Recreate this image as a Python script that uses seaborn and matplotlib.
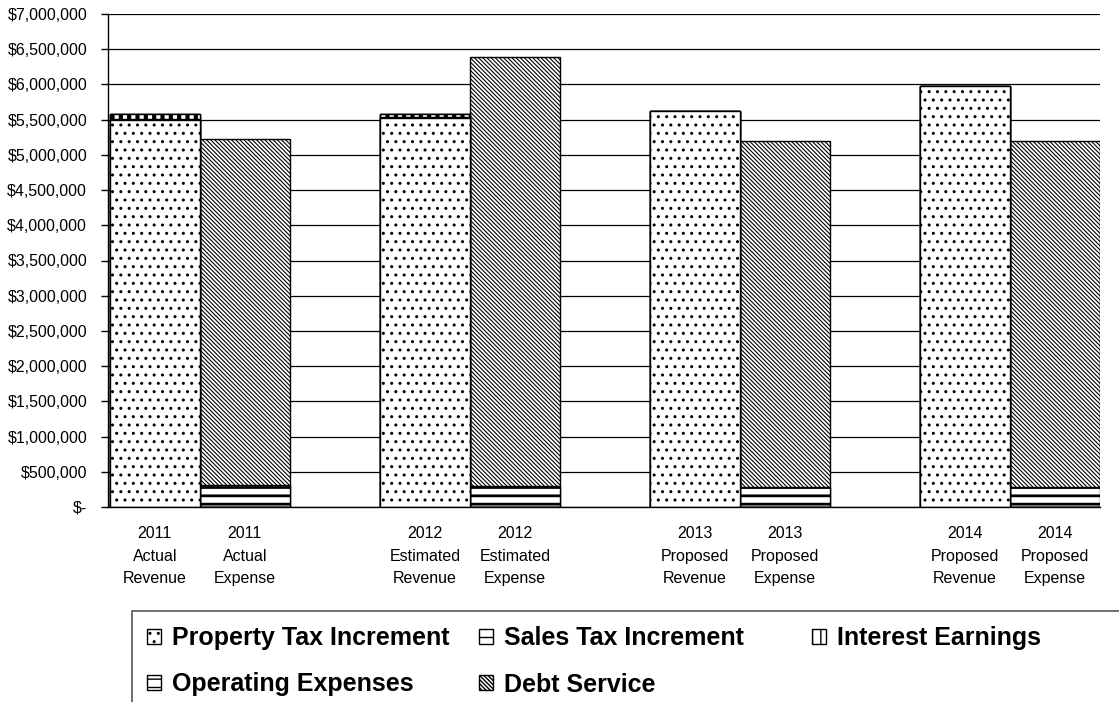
import pandas as pd
import matplotlib.pyplot as plt
import seaborn as sns
from matplotlib.patches import Patch, Rectangle
from matplotlib.ticker import FuncFormatter

# Category labels and positions (gaps between year pairs)
labels = ['2011\nActual\nRevenue', '2011\nActual\nExpense',
          '2012\nEstimated\nRevenue', '2012\nEstimated\nExpense',
          '2013\nProposed\nRevenue', '2013\nProposed\nExpense',
          '2014\nProposed\nRevenue', '2014\nProposed\nExpense']
positions = [0, 1, 3, 4, 6, 7, 9, 10]

# Series values
property_tax = [5495000, 0, 5530000, 0, 5625000, 0, 5975000, 0]
sales_tax = [20000, 0, 10000, 0, 0, 0, 0, 0]
interest = [65000, 0, 35000, 0, 0, 0, 0, 0]
operating = [0, 310000, 0, 295000, 0, 290000, 0, 290000]
debt_service = [0, 4915000, 0, 6100000, 0, 4905000, 0, 4905000]

series_names = ['Property Tax Increment', 'Sales Tax Increment', 'Interest Earnings',
                'Operating Expenses', 'Debt Service']
series_values = [property_tax, sales_tax, interest, operating, debt_service]
hatches = ['..', '--', '||', '--', '\\' * 8]
hatch_lw = [1.0, 2.0, 3.0, 2.0, 0.8]

sns.set_style('white')
plt.rcParams['font.family'] = ['Liberation Sans', 'DejaVu Sans']
plt.rcParams['text.color'] = 'black'
plt.rcParams['xtick.color'] = 'black'
plt.rcParams['ytick.color'] = 'black'
plt.rcParams['hatch.linewidth'] = 1.0
per_artist_hatch = hasattr(Patch, 'set_hatch_linewidth')

fig = plt.figure(figsize=(11.19, 7.02), dpi=100)
ax = fig.add_axes([108 / 1119, 1 - 507 / 702, (1100 - 108) / 1119, (507 - 14) / 702])

# cumulative totals, drawn from the top layer down so lower layers cover upper ones
df = pd.DataFrame(dict(zip(series_names, series_values)))
cum = df[series_names].cumsum(axis=1)
cum['x'] = positions

for name, h, hl in reversed(list(zip(series_names, hatches, hatch_lw))):
    kw = {'hatch_linewidth': hl} if per_artist_hatch else {}
    sns.barplot(data=cum, x='x', y=name, native_scale=True, width=1, color='white',
                saturation=1, edgecolor='black', linewidth=1, hatch=h,
                errorbar=None, ax=ax, zorder=3, **kw)

ax.set_xlim(-0.52, 10.5)
ax.set_ylim(0, 7000000)
ax.set_yticks(range(0, 7000001, 500000))
ax.yaxis.set_major_formatter(FuncFormatter(lambda v, p: '$-' if v == 0 else f'${v:,.0f}'))
ax.set_xticks(positions)
ax.set_xticklabels(labels, linespacing=1.6)
ax.set_xticks([p - 0.5 for p in positions] + [p + 0.5 for p in positions], minor=True)
ax.tick_params(axis='x', which='major', length=0, pad=14, labelsize=11.5)
ax.tick_params(axis='x', which='minor', length=5, width=1, color='black', direction='out')
ax.tick_params(axis='y', length=5, width=1, color='black', direction='out', left=True,
               labelsize=11.5, pad=10)
ax.grid(axis='y', color='black', linewidth=0.9, zorder=0)
ax.set_axisbelow(True)
ax.set_xlabel('')
ax.set_ylabel('')
for s in ['top', 'right']:
    ax.spines[s].set_visible(False)
for s in ['left', 'bottom']:
    ax.spines[s].set_color('black')
    ax.spines[s].set_linewidth(1)
    ax.spines[s].set_zorder(4)

# legend box running off the right and bottom edges
fig.patches.append(Rectangle((132 / 1119, -0.2), 1.0, 0.2 + (702 - 611) / 702,
                             transform=fig.transFigure, facecolor='none',
                             edgecolor='#555555', linewidth=1.2))

# legend, one column at a time so columns sit at even spacing
columns = [['Property Tax Increment', 'Operating Expenses'],
           ['Sales Tax Increment', 'Debt Service'],
           ['Interest Earnings']]
col_x = [147, 479, 812]
for names, cx in zip(columns, col_x):
    hs = []
    for n in names:
        i = series_names.index(n)
        kw = {'hatch_linewidth': min(hatch_lw[i], 1.5)} if per_artist_hatch else {}
        hs.append(Patch(facecolor='white', edgecolor='black', hatch=hatches[i], **kw))
    leg = fig.legend(hs, names, loc='upper left', bbox_to_anchor=(cx / 1119, 1 - 626 / 702),
                     frameon=False, prop={'weight': 'bold', 'size': 18},
                     handlelength=0.55, handleheight=0.55, handletextpad=0.45,
                     labelspacing=0.9, borderpad=0, borderaxespad=0)

plt.savefig('out.png', dpi=100)
